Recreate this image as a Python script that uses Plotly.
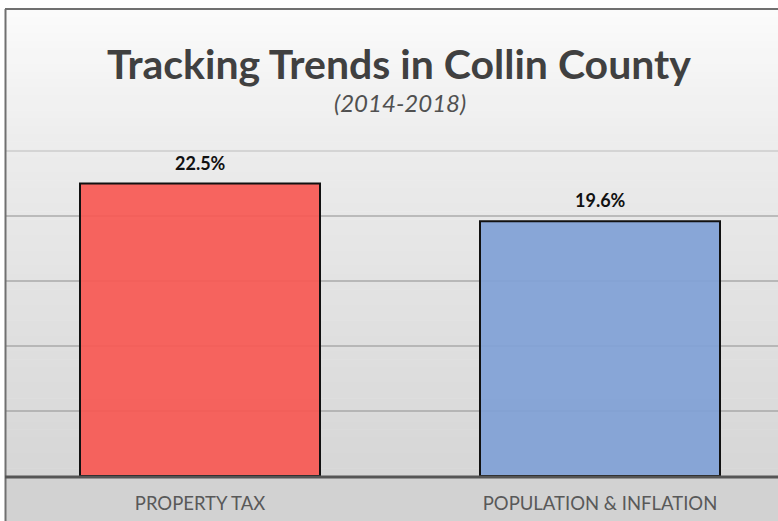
import plotly.graph_objects as go

# Chart data
categories = ["PROPERTY TAX", "POPULATION &amp; INFLATION"]
values = [22.5, 19.6]
bar_colors = ["rgba(247, 88, 82, 0.92)", "rgba(128, 161, 214, 0.92)"]
title_text = "Tracking Trends in Collin County"
subtitle_text = "(2014-2018)"
grid_values = [5, 10, 15, 20]
top_grid_value = 25

W, H = 778, 521
L, R, T, B = 6, 0, 146, 45
plot_h = H - T - B
plot_w = W - L - R
PX_PER_UNIT = 13.0  # 5% per 65 px gridline step


def py(px):
    """Convert a pixel row (from top) into paper y."""
    return (H - B - px) / plot_h


def px_x(px):
    return (px - L) / plot_w


fig = go.Figure()

fig.add_trace(go.Bar(
    x=[0, 1],
    y=values,
    width=0.6,
    marker=dict(color=bar_colors, line=dict(color="#111111", width=2)),
    hoverinfo="skip",
))

# Background: vertical grey gradient built from thin bands
stops = [(9, 251), (150, 236), (300, 226), (476, 214)]


def shade(p):
    for (a, ca), (b, cb) in zip(stops[:-1], stops[1:]):
        if a <= p <= b:
            return ca + (cb - ca) * (p - a) / (b - a)
    return stops[-1][1]


shapes = []
n = 60
top, bot = 9, 476
for i in range(n):
    y0 = top + (bot - top) * i / n
    y1 = top + (bot - top) * (i + 1) / n
    c = int(round(shade((y0 + y1) / 2)))
    shapes.append(dict(type="rect", xref="paper", yref="paper",
                       x0=px_x(5), x1=px_x(790), y0=py(y1 + 0.5), y1=py(y0),
                       fillcolor=f"rgb({c},{c},{c})", line=dict(width=0),
                       layer="below"))
# faint top gridline
shapes.append(dict(type="line", xref="paper", yref="y",
                   x0=0, x1=1, y0=top_grid_value, y1=top_grid_value,
                   line=dict(color="rgba(170,170,170,0.35)", width=2),
                   layer="below"))
# bottom label band
shapes.append(dict(type="rect", xref="paper", yref="paper",
                   x0=px_x(5), x1=px_x(790), y0=py(530), y1=py(476),
                   fillcolor="rgb(210,210,210)", line=dict(width=0), layer="below"))
# outer frame (top and left edges)
shapes.append(dict(type="line", xref="paper", yref="paper",
                   x0=px_x(5), x1=px_x(790), y0=py(9), y1=py(9),
                   line=dict(color="#707070", width=2), layer="above"))
shapes.append(dict(type="line", xref="paper", yref="paper",
                   x0=px_x(5.5), x1=px_x(5.5), y0=py(9), y1=py(530),
                   line=dict(color="#707070", width=2), layer="above"))
# axis baseline
shapes.append(dict(type="line", xref="paper", yref="paper",
                   x0=px_x(5), x1=px_x(790), y0=py(477), y1=py(477),
                   line=dict(color="#555555", width=3), layer="above"))

annotations = [
    dict(text=f"<b>{title_text}</b>", xref="paper", yref="paper",
         x=px_x(399), y=py(63), xanchor="center", yanchor="middle",
         showarrow=False, font=dict(family="Lato", size=41, color="#404040")),
    dict(text=f"<i>{subtitle_text}</i>", xref="paper", yref="paper",
         x=px_x(400), y=py(103), xanchor="center", yanchor="middle",
         showarrow=False, font=dict(family="Lato", size=24, color="#505050")),
]
for i, v in enumerate(values):
    annotations.append(dict(
        text=f"<b>{v:.1f}%</b>", x=i, y=v, xref="x", yref="y",
        xanchor="center", yanchor="bottom", yshift=8, showarrow=False,
        font=dict(family="Lato", size=18, color="#111111")))

fig.update_layout(
    width=W, height=H,
    margin=dict(l=L, r=R, t=T, b=B, pad=0),
    paper_bgcolor="white",
    plot_bgcolor="rgba(0,0,0,0)",
    showlegend=False,
    shapes=shapes,
    annotations=annotations,
    bargap=0.4,
    xaxis=dict(
        range=[-0.485, -0.485 + plot_w / 400],
        tickvals=[0, 1], ticktext=categories,
        showgrid=False, zeroline=False, showline=False,
        ticks="", ticklabelstandoff=14,
        tickfont=dict(family="Lato", size=18.5, color="#595959"),
        fixedrange=True,
    ),
    yaxis=dict(
        range=[0, plot_h / PX_PER_UNIT], tickvals=grid_values,
        showticklabels=False,
        showgrid=True, gridcolor="rgba(150,150,150,0.55)", gridwidth=2,
        zeroline=False, showline=False, fixedrange=True,
    ),
)

fig.write_html("out.html", config={"displayModeBar": False})
